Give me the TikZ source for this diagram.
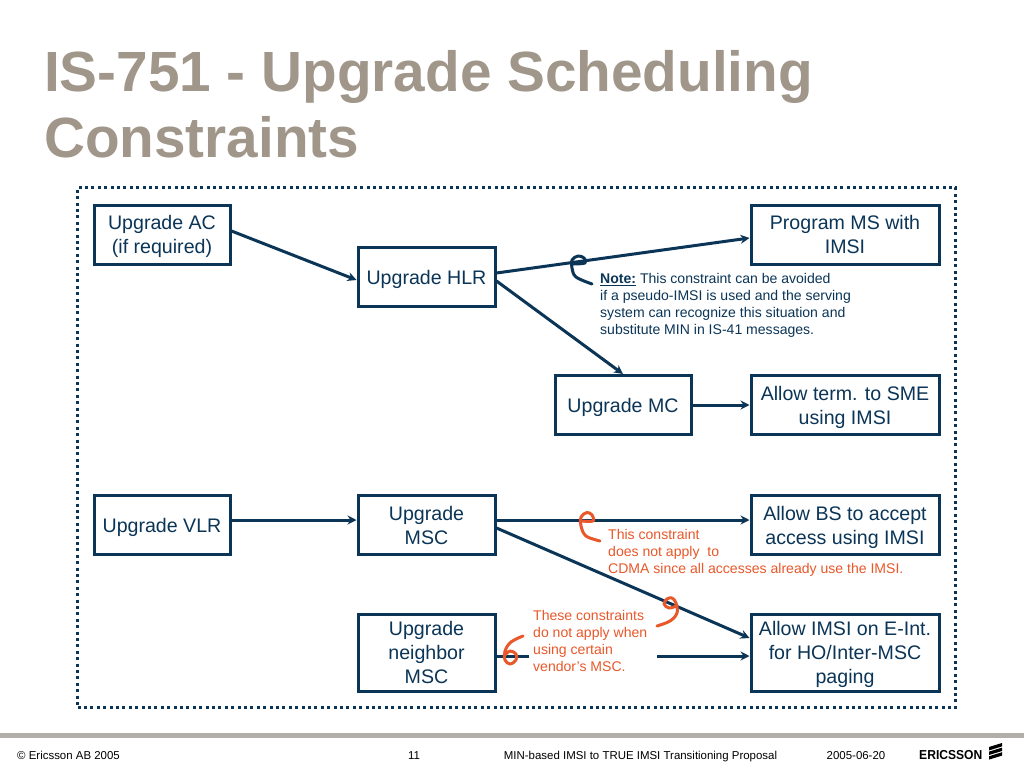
\documentclass[tikz,border=0pt]{standalone}
\usepackage{fontspec}
\setmainfont{Liberation Sans}
\usetikzlibrary{arrows.meta}
\definecolor{navy}{HTML}{0B3557}
\definecolor{taupe}{HTML}{A0968A}
\definecolor{rust}{HTML}{E8582A}
\definecolor{rulegrey}{HTML}{B2AEAA}
\tikzset{
  stepbox/.style={draw=navy,line width=3pt,text=navy,align=center,inner sep=0pt,text depth=0pt,font=\fontsize{19.6}{24}\selectfont},
  arrowline/.style={draw=navy,line width=3pt,-{Stealth[length=9pt,width=9pt]}},
  noteline/.style={anchor=north west,align=left,inner sep=0pt,font=\fontsize{14.05}{17}\selectfont},
  squiggle/.style={draw=rust,line width=3pt,line cap=round,line join=round},
  footer/.style={anchor=base,inner sep=0pt,text=black,font=\fontsize{11.45}{14}\selectfont}
}
\begin{document}
\begin{tikzpicture}[line cap=butt,line join=miter,x=1pt,y=-1pt]
\useasboundingbox (0,0) rectangle (1024,768);
\fill[white] (0,0) rectangle (1024,768);
\node[anchor=north west,inner sep=0pt,align=left,text=taupe,font=\fontsize{56.7}{66}\bfseries\selectfont] (title) at (44,50) {IS-751 - Upgrade Scheduling\\Constraints};
\node[draw=navy,line width=3pt,dash pattern=on 3pt off 3.4pt,minimum width=878pt,minimum height=520pt,inner sep=0pt] (frame) at (516.5,447.5) {};
% boxes
\node[stepbox,minimum width=136pt,minimum height=59pt] (ac) at (162,234.5) {Upgrade AC\\(if required)};
\node[stepbox,minimum width=188pt,minimum height=59pt] (prog) at (845,234.5) {Program MS with\\IMSI};
\node[stepbox,minimum width=137pt,minimum height=59pt] (hlr) at (426.5,277) {Upgrade HLR};
\node[stepbox,minimum width=136pt,minimum height=59pt] (mc) at (623,405) {Upgrade MC};
\node[stepbox,minimum width=188pt,minimum height=59pt] (term) at (845,405) {Allow term. to SME\\using IMSI};
\node[stepbox,minimum width=136pt,minimum height=59pt] (vlr) at (162,525) {Upgrade VLR};
\node[stepbox,minimum width=137pt,minimum height=59pt] (msc) at (426.5,525) {Upgrade\\MSC};
\node[stepbox,minimum width=188pt,minimum height=59pt] (bs) at (845,525) {Allow BS to accept\\access using IMSI};
\node[stepbox,minimum width=137pt,minimum height=77pt] (nbr) at (426.5,652.5) {Upgrade\\neighbor\\MSC};
\node[stepbox,minimum width=188pt,minimum height=77pt] (eint) at (845,652.5) {Allow IMSI on E-Int.\\for HO/Inter-MSC\\paging};
% notes
\node[noteline,text=navy] (note) at (600,273) {\textbf{\underline{Note:}} This constraint can be avoided\\if a pseudo-IMSI is used and the serving\\system can recognize this situation and\\substitute MIN in IS-41 messages.};
\node[noteline,text=rust] (cdma) at (608,529) {This constraint\\does not apply\ \ to\\CDMA since all accesses already use the IMSI.};
\node[noteline,text=rust] (vendor) at (533,610) {These constraints\\do not apply when\\using certain\\vendor’s MSC.};
% connectors
\coordinate (gapa) at (529,656);
\coordinate (gapb) at (657,656);
\draw[arrowline] ([yshift=3.5pt]ac.east) -- ([yshift=-3pt]hlr.west);
\draw[arrowline] ([yshift=4pt]hlr.east) -- ([yshift=-3.5pt]prog.west);
\draw[arrowline] ([yshift=-4pt]hlr.east) -- (mc.north);
\draw[arrowline] (mc.east) -- (term.west);
\draw[arrowline] ([yshift=5pt]vlr.east) -- ([yshift=5pt]msc.west);
\draw[arrowline] ([yshift=5pt]msc.east) -- ([yshift=5pt]bs.west);
\draw[arrowline] ([yshift=-3pt]msc.east) -- ([yshift=14.5pt]eint.west);
\draw[draw=navy,line width=3pt] ([yshift=-3.5pt]nbr.east) -- (gapa);
\draw[arrowline] (gapb) -- ([yshift=-3.5pt]eint.west);
% hand marks
\draw[squiggle,draw=navy] plot[smooth,tension=0.6] coordinates {(573,264) (585,263) (584,258) (578,256) (572,260) (572,268) (576,277) (592,284)};
\draw[squiggle] plot[smooth,tension=0.6] coordinates {(582,521) (593,521) (592,515) (587,512.5) (581,517) (581,526) (586,536) (600,541)};
\draw[squiggle] plot[smooth,tension=0.6] coordinates {(676,606) (669,608) (664,604) (667,599) (672,598) (676,603) (677,613) (670,621) (657,626)};
\draw[squiggle] plot[smooth,tension=0.6] coordinates {(523,636) (511,642) (505,651) (505,660) (510,664) (516,660) (516,654) (510,651) (505,655)};
% footer
\fill[rulegrey] (0,733) rectangle (1024,738);
\node[footer,anchor=base west] (copy) at (17,759) {© Ericsson AB 2005};
\node[footer] (page) at (414,759) {11};
\node[footer] (talk) at (640.5,759) {MIN-based IMSI to TRUE IMSI Transitioning Proposal};
\node[footer] (date) at (856,759) {2005-06-20};
\node[footer,anchor=base west,font=\fontsize{13}{14}\bfseries\selectfont] (brand) at (919,759) {\scalebox{0.93}[1]{ERICSSON}};
\foreach \y in {0,4.6,9.2}
\fill[black] (989,747+\y) -- (1002,743+\y) -- (1002,746.4+\y) -- (989,750.4+\y) -- cycle;
\end{tikzpicture}
\end{document}
